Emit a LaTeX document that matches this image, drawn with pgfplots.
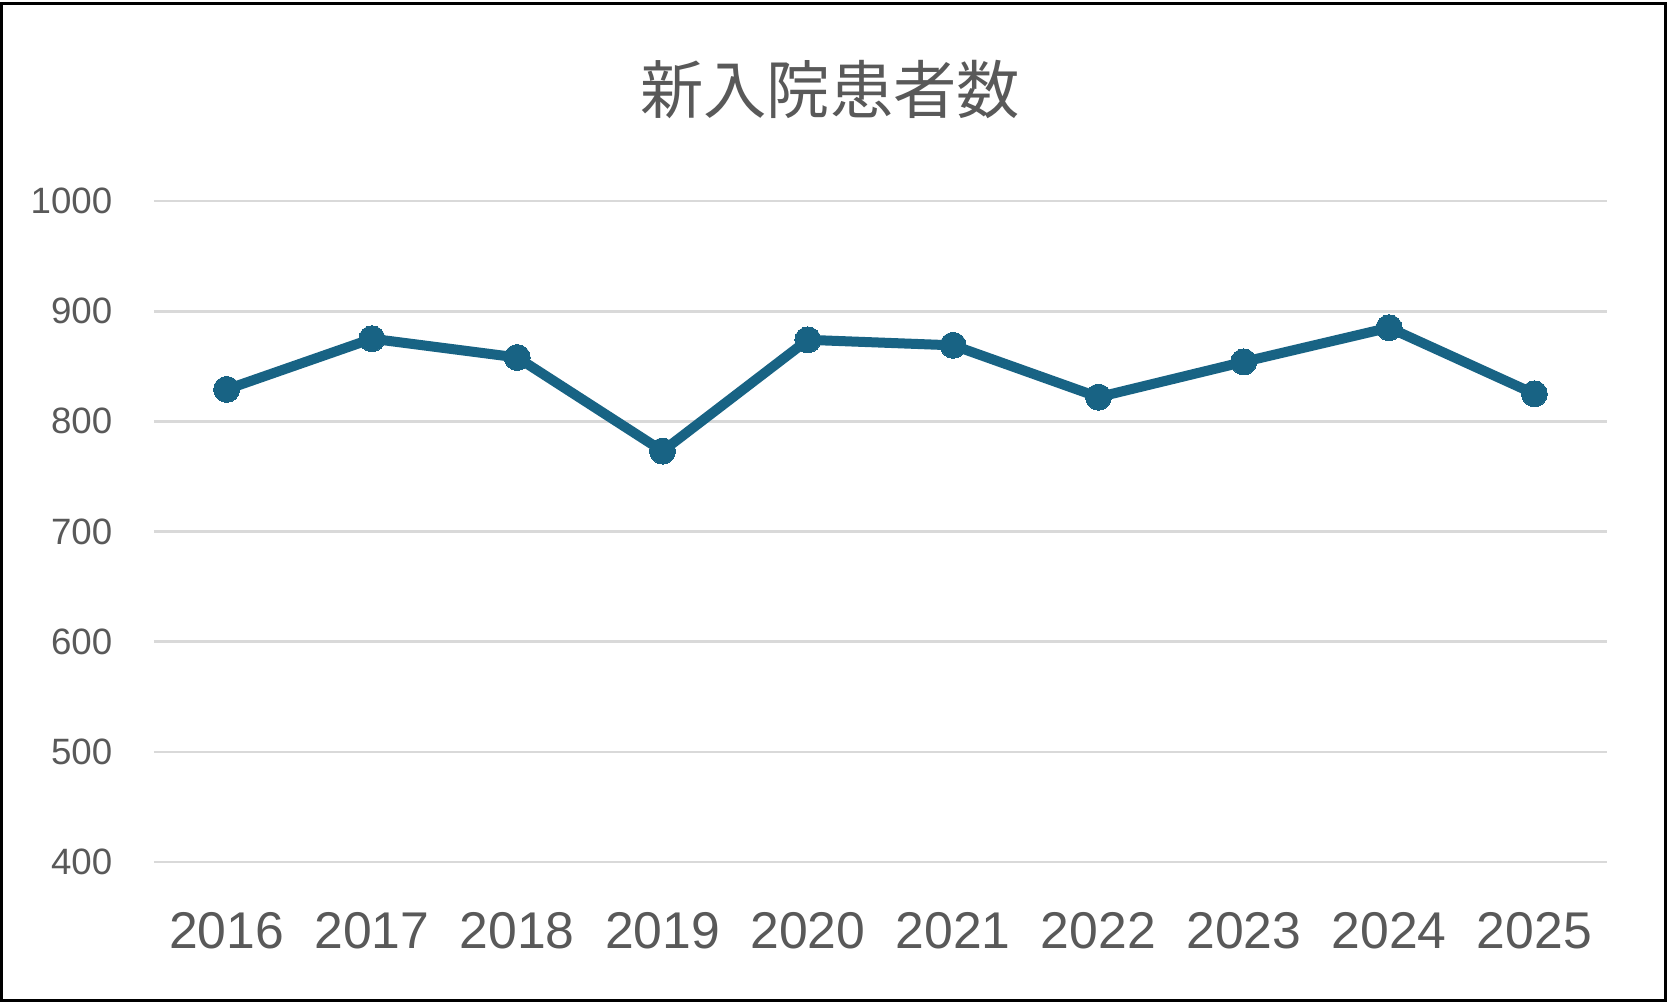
\documentclass[border=0pt]{standalone}
\usepackage{fontspec}
\setmainfont{Liberation Sans}
\newfontfamily\cjk{Noto Sans CJK JP}
\usepackage{pgfplots}
\pgfplotsset{compat=1.18}
\definecolor{linec}{RGB}{24,99,132}
\definecolor{txt}{RGB}{89,89,89}
\definecolor{gridc}{RGB}{217,217,217}
\begin{document}
\begin{tikzpicture}
\fill[white] (-46.2pt,-42.3pt) rectangle (454.2pt,258.6pt);
\begin{axis}[
  scale only axis,
  width=435.9pt, height=198.3pt,
  at={(0pt,0pt)}, anchor=south west,
  xmin=-0.5, xmax=9.5,
  ymin=400, ymax=1000,
  ytick={400,500,...,1000},
  xtick={0,...,9},
  xticklabels={2016,2017,2018,2019,2020,2021,2022,2023,2024,2025},
  axis line style={draw=none},
  major tick length=0pt,
  ymajorgrids,
  grid style={gridc, line width=0.8pt},
  /pgf/number format/assume math mode=true,
  /pgf/number format/1000 sep={},
  yticklabel style={font=\fontsize{11}{13}\selectfont, text=txt, xshift=-9pt},
  xticklabel style={font=\fontsize{15.5}{18}\selectfont, text=txt, yshift=-11.5pt},
  clip=false,
]
\addplot[linec, line width=3pt, mark=*, mark size=3.9pt, mark options={fill=linec, draw=linec, line width=0pt}]
  coordinates {(0,829) (1,875) (2,858) (3,773) (4,874) (5,869) (6,822) (7,854) (8,885) (9,825)};
\end{axis}
\node[font=\cjk\fontsize{19}{22}\selectfont, text=txt] at (202.8pt,231.6pt) {新入院患者数};
\draw[black, line width=0.9pt] (-45.6pt,-41.4pt) rectangle (453.4pt,257.6pt);
\end{tikzpicture}
\end{document}
